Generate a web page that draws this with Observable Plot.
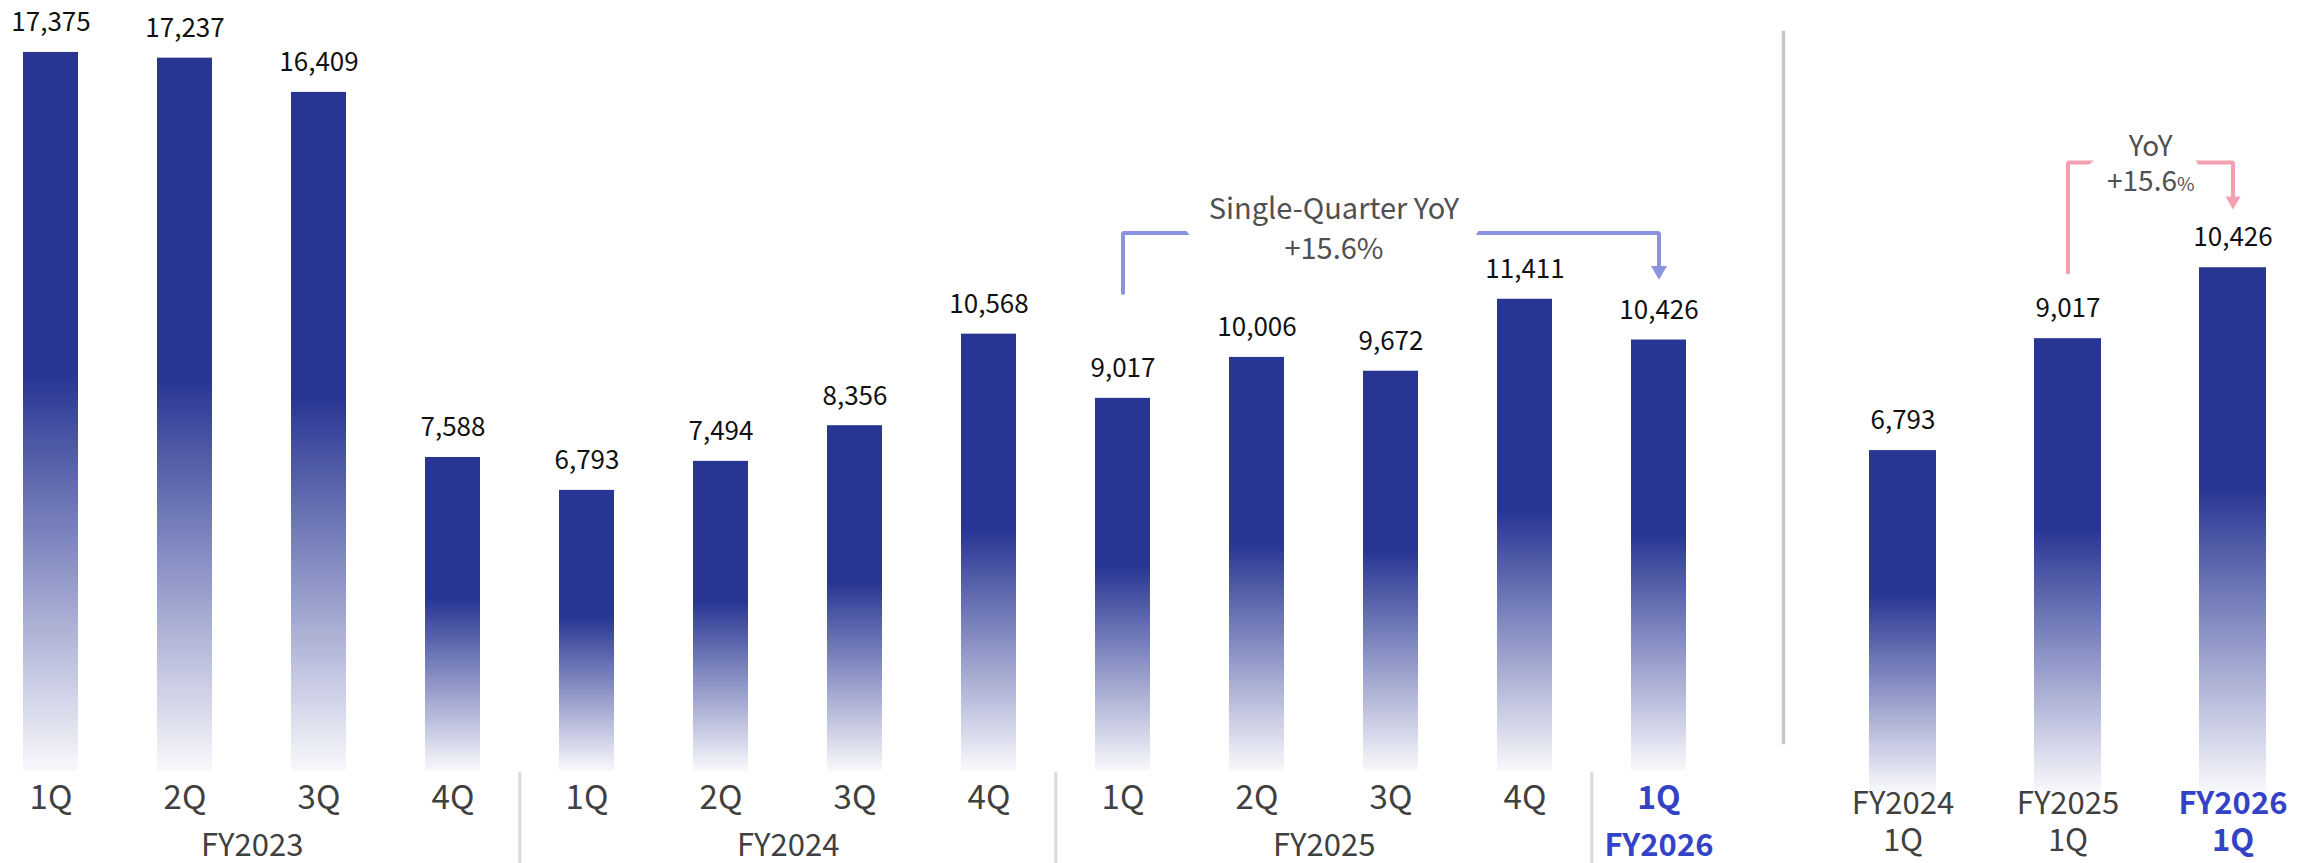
<!DOCTYPE html>
<html>
<head>
<meta charset="utf-8">
<script src="https://cdn.jsdelivr.net/npm/d3@7"></script>
<script src="https://cdn.jsdelivr.net/npm/@observablehq/plot@0.6"></script>
<style>
  html, body { margin: 0; padding: 0; background: #fff; }
  #chart { display: flex; width: 2312px; height: 863px; overflow: hidden; }
  #chart > svg { flex: none; }
</style>
</head>
<body>
<div id="chart"></div>
<script>
// ---- Quarterly revenue series ----
const quarterKeys = [
  "FY2023 1Q", "FY2023 2Q", "FY2023 3Q", "FY2023 4Q",
  "FY2024 1Q", "FY2024 2Q", "FY2024 3Q", "FY2024 4Q",
  "FY2025 1Q", "FY2025 2Q", "FY2025 3Q", "FY2025 4Q",
  "FY2026 1Q"
];
const quarterLabels = ["1Q", "2Q", "3Q", "4Q", "1Q", "2Q", "3Q", "4Q", "1Q", "2Q", "3Q", "4Q", "1Q"];
const quarterValues = [17375, 17237, 16409, 7588, 6793, 7494, 8356, 10568, 9017, 10006, 9672, 11411, 10426];

// Fiscal-year group labels and the quarter each one sits under
const yearLabels = ["FY2023", "FY2024", "FY2025", "FY2026"];
const yearAnchors = ["FY2023 2Q", "FY2024 2Q", "FY2025 2Q", "FY2026 1Q"];
const groupStarts = ["FY2024 1Q", "FY2025 1Q", "FY2026 1Q"];
const highlightKey = "FY2026 1Q";

// ---- First-quarter comparison ----
const yoyKeys = ["FY2024 1Q", "FY2025 1Q", "FY2026 1Q"];
const yoyYears = ["FY2024", "FY2025", "FY2026"];
const yoyQuarters = ["1Q", "1Q", "1Q"];
const yoyValues = [6793, 9017, 10426];

// Annotation texts
const yoyTitle = "Single-Quarter YoY";
const yoyShort = "YoY";
const yoyChange = "+15.6%";

// ---- Styling ----
const FONT = '"Noto Sans CJK SC", "Source Sans Pro", "Noto Sans", sans-serif';
const BAR = "#283593";
const INK = "#111111";
const GRAY = "#404040";
const NOTE = "#505050";
const BLUE = "#3443c6";
const LAVENDER = "#8a93e0";
const PINK = "#f5a0b0";
const fmt = d3.format(",");

// Vertical fade used by every bar: solid on top, dissolving toward the base
function addFade(svg, id, solidTo) {
  const defs = d3.select(svg).insert("defs", ":first-child");
  const g = defs.append("linearGradient")
    .attr("id", id).attr("x1", 0).attr("y1", 0).attr("x2", 0).attr("y2", 1);
  g.append("stop").attr("offset", 0).attr("stop-color", BAR);
  g.append("stop").attr("offset", solidTo).attr("stop-color", BAR);
  g.append("stop").attr("offset", 1).attr("stop-color", BAR).attr("stop-opacity", 0.03);
}

// White knockout stroke so the bracket line breaks around an annotation
const halo = (width) => ({stroke: "white", strokeWidth: width, paintOrder: "stroke", strokeLinejoin: "round"});

// ---------- Left panel: all quarters ----------
const quarters = quarterKeys.map((key, i) => ({key, label: quarterLabels[i], value: quarterValues[i]}));
const years = yearLabels.map((label, i) => ({key: yearAnchors[i], label}));

const leftRange = [20, 1688];
const leftPad = 0.59;
const leftStep = (leftRange[1] - leftRange[0]) / (quarterKeys.length - leftPad);

// bracket from FY2025 1Q up and across to FY2026 1Q
const bracketLeft = [
  {key: "FY2025 1Q", v: 11563},
  {key: "FY2025 1Q", v: 13015},
  {key: "FY2026 1Q", v: 13015},
  {key: "FY2026 1Q", v: 12102}
];
const noteLeft = [
  {key: "FY2025 3Q", v: 13567, label: yoyTitle},
  {key: "FY2025 3Q", v: 12617, label: yoyChange}
];

const left = Plot.plot({
  width: 1780,
  height: 863,
  marginTop: 0,
  marginBottom: 92,
  marginLeft: 20,
  marginRight: 92,
  style: {fontFamily: FONT, background: "white", overflow: "visible"},
  x: {type: "band", domain: quarterKeys, range: leftRange, paddingInner: leftPad, paddingOuter: 0, axis: null},
  y: {domain: [0, 18630], axis: null},
  marks: [
    Plot.barY(quarters, {x: "key", y: "value", fill: "url(#fadeLeft)"}),
    Plot.text(quarters, {
      x: "key", y: "value", text: (d) => fmt(d.value),
      lineAnchor: "bottom", dy: -21, fontSize: 26, fill: INK
    }),
    // group separators in the label band
    Plot.ruleX(groupStarts, {x: (d) => d, y1: -30, y2: -2400, dx: -leftStep / 2, stroke: "#d9d9d9", strokeWidth: 3}),
    // quarter labels
    Plot.text(quarters.filter((d) => d.key !== highlightKey), {
      x: "key", text: "label", frameAnchor: "bottom", dy: 37, fontSize: 33, fill: GRAY
    }),
    Plot.text(quarters.filter((d) => d.key === highlightKey), {
      x: "key", text: "label", frameAnchor: "bottom", dy: 37, fontSize: 32, fill: BLUE, fontWeight: "bold"
    }),
    // fiscal-year labels
    Plot.text(years.filter((d) => d.key !== highlightKey), {
      x: "key", text: "label", frameAnchor: "bottom", dy: 84, dx: leftStep / 2, fontSize: 31, fill: GRAY
    }),
    Plot.text(years.filter((d) => d.key === highlightKey), {
      x: "key", text: "label", frameAnchor: "bottom", dy: 84, fontSize: 31, fill: BLUE, fontWeight: "bold"
    }),
    // single-quarter YoY bracket
    Plot.line(bracketLeft, {x: "key", y: "v", stroke: LAVENDER, strokeWidth: 4, strokeLinejoin: "miter"}),
    Plot.dot([bracketLeft[3]], {x: "key", y: "v", symbol: "triangle", r: 5.9, rotate: 180, fill: LAVENDER, stroke: null}),
    Plot.text(noteLeft.slice(0, 1), {x: "key", y: "v", text: "label", dx: -57, fontSize: 29, fill: NOTE, ...halo(56)}),
    Plot.text(noteLeft.slice(1), {x: "key", y: "v", text: "label", dx: -57, fontSize: 29, fill: NOTE})
  ]
});
addFade(left, "fadeLeft", 0.45);

// ---------- Right panel: first quarters year over year ----------
const firsts = yoyKeys.map((key, i) => ({key, year: yoyYears[i], quarter: yoyQuarters[i], value: yoyValues[i]}));

const rightRange = [88.5, 486.5];
const rightPad = 0.595;
const rightStep = (rightRange[1] - rightRange[0]) / (yoyKeys.length - rightPad);

const bracketRight = [
  {key: "FY2025 1Q", v: 10332},
  {key: "FY2025 1Q", v: 12517},
  {key: "FY2026 1Q", v: 12517},
  {key: "FY2026 1Q", v: 11756}
];
const noteRight = [
  {key: "FY2025 1Q", v: 12130, label: yoyChange},
  {key: "FY2025 1Q", v: 12825, label: yoyShort}
];

const right = Plot.plot({
  width: 532,
  height: 863,
  marginTop: 32,
  marginBottom: 121,
  marginLeft: 3,
  marginRight: 0,
  style: {fontFamily: FONT, background: "white", overflow: "visible"},
  x: {type: "band", domain: yoyKeys, range: rightRange, paddingInner: rightPad, paddingOuter: 0, axis: null},
  y: {domain: [0, 15736], range: [792, 0], axis: null},
  marks: [
    Plot.frame({anchor: "left", stroke: "#c6c6c6", strokeWidth: 3.5}),
    Plot.barY(firsts, {x: "key", y: "value", fill: "url(#fadeRight)"}),
    Plot.text(firsts, {
      x: "key", y: "value", text: (d) => fmt(d.value),
      lineAnchor: "bottom", dy: -22, fontSize: 26, fill: INK
    }),
    // two-line category labels
    Plot.text(firsts.filter((d) => d.key !== highlightKey), {
      x: "key", text: (d) => `${d.year}\n${d.quarter}`, frameAnchor: "bottom", dy: 108,
      lineHeight: 1.19, fontSize: 31, fill: GRAY
    }),
    Plot.text(firsts.filter((d) => d.key === highlightKey), {
      x: "key", text: (d) => `${d.year}\n${d.quarter}`, frameAnchor: "bottom", dy: 108,
      lineHeight: 1.19, fontSize: 31, fill: BLUE, fontWeight: "bold"
    }),
    // YoY bracket
    Plot.line(bracketRight, {x: "key", y: "v", stroke: PINK, strokeWidth: 4, strokeLinejoin: "miter"}),
    Plot.dot([bracketRight[3]], {x: "key", y: "v", symbol: "triangle", r: 5.6, rotate: 180, fill: PINK, stroke: null}),
    Plot.text(noteRight.slice(0, 1), {x: "key", y: "v", text: "label", dx: rightStep / 2, fontSize: 28, fill: NOTE, ...halo(48)}),
    Plot.text(noteRight.slice(1), {x: "key", y: "v", text: "label", dx: rightStep / 2, fontSize: 28, fill: NOTE})
  ]
});
addFade(right, "fadeRight", 0.42);

// smaller percent sign in the YoY figure (no knockout stroke on it)
d3.select(right).selectAll("text")
  .filter(function () { return this.textContent === yoyChange; })
  .each(function () {
    const t = d3.select(this);
    t.text(yoyChange.slice(0, -1));
    t.append("tspan").attr("font-size", "0.68em").attr("stroke", "none").text(yoyChange.slice(-1));
  });

const chart = document.getElementById("chart");
chart.append(left, right);
</script>
</body>
</html>
